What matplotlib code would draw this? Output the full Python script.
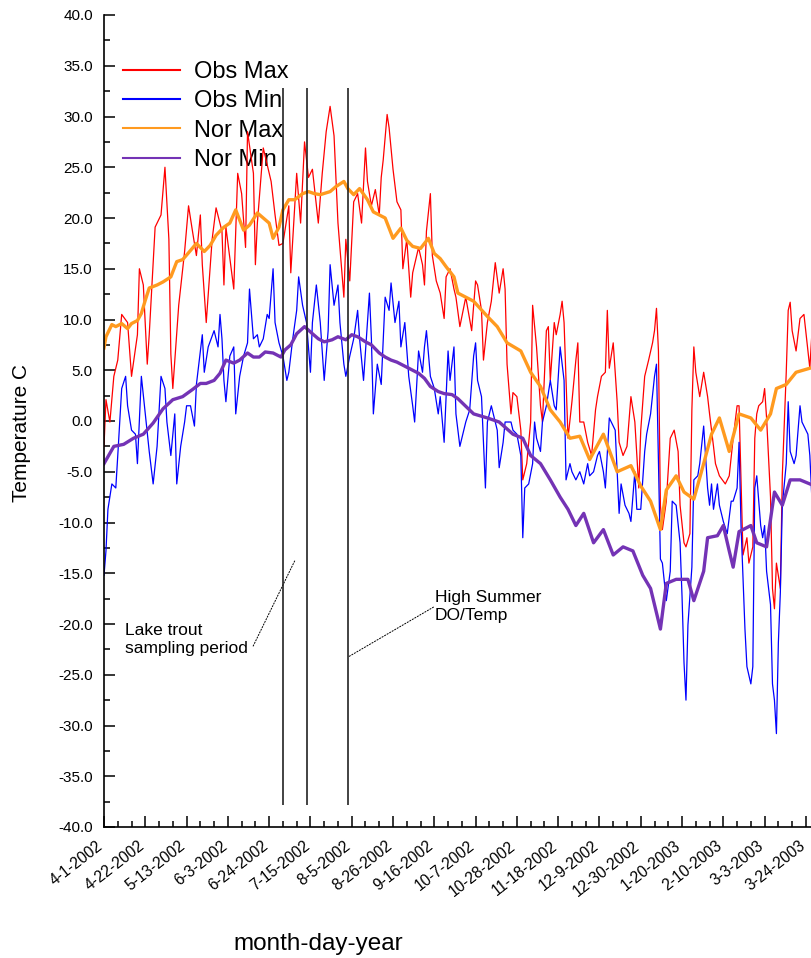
import matplotlib
matplotlib.use("Agg")
import matplotlib.pyplot as plt
from matplotlib.ticker import MultipleLocator, FormatStrFormatter
from matplotlib.transforms import ScaledTranslation

plt.rcParams["font.family"] = ["Liberation Sans", "DejaVu Sans"]

# day offsets are counted from 4-1-2002
tick_days = [0, 21, 42, 63, 84, 105, 126, 147, 168, 189, 210, 231, 252, 273, 294, 315, 336, 357]
tick_labels = ["4-1-2002", "4-22-2002", "5-13-2002", "6-3-2002", "6-24-2002", "7-15-2002",
               "8-5-2002", "8-26-2002", "9-16-2002", "10-7-2002", "10-28-2002", "11-18-2002",
               "12-9-2002", "12-30-2002", "1-20-2003", "2-10-2003", "3-3-2003", "3-24-2003"]

obs_max_day = [0, 1, 3, 5, 7, 9, 12, 14, 17, 18, 20, 22, 23, 26, 28, 29, 31, 33, 34, 35, 38, 41, 43, 45,
               47, 49, 50, 52, 55, 57, 60, 61, 62, 66, 68, 70, 72, 73, 76, 77, 78, 81, 84, 85, 87, 89,
               91, 94, 95, 98, 100, 102, 104, 106, 109, 111, 113, 115, 117, 119, 121, 122, 123, 125,
               127, 129, 131, 133, 134, 136, 138, 140, 141, 142, 144, 145, 147, 149, 151, 152, 154,
               156, 157, 160, 162, 163, 164, 166, 167, 169, 171, 173, 174, 176, 178, 179, 181, 184,
               187, 189, 190, 192, 193, 195, 197, 199, 201, 203, 204, 205, 207, 208, 210, 212, 213,
               215, 217, 218, 220, 222, 223, 225, 226, 227, 229, 230, 232, 233, 234, 236, 238, 240,
               241, 242, 244, 246, 248, 250, 251, 253, 255, 256, 257, 259, 261, 262, 264, 266, 268,
               270, 272, 273, 275, 277, 279, 280, 281, 282, 283, 284, 286, 288, 290, 292, 293, 295,
               296, 298, 299, 300, 301, 303, 305, 307, 308, 310, 311, 313, 316, 318, 320, 322, 323,
               325, 327, 328, 330, 331, 332, 333, 335, 336, 337, 339, 340, 341, 342, 344, 345, 347,
               348, 349, 350, 352, 354, 356, 358, 359, 360]
obs_max = [-2.5, 2.1, -0.1, 4.4, 6.0, 10.5, 9.7, 4.4, 8.5, 15.0, 13.4, 5.6, 8.5, 19.1, 19.9, 20.3, 25.0,
           17.9, 6.6, 3.2, 11.4, 16.7, 21.2, 18.7, 16.3, 20.3, 15.4, 9.7, 17.9, 21.0, 18.7, 13.4, 19.1,
           13.0, 24.4, 22.4, 17.1, 28.5, 24.4, 15.4, 19.5, 26.9, 24.4, 23.6, 20.3, 17.3, 17.5, 21.2,
           14.6, 24.4, 19.5, 27.5, 24.0, 24.8, 19.5, 24.4, 28.5, 31.0, 28.1, 19.5, 14.6, 12.2, 17.9,
           13.8, 21.6, 22.4, 19.5, 26.9, 23.6, 21.2, 22.8, 20.3, 24.0, 25.7, 30.2, 28.9, 24.8, 21.6,
           20.8, 15.0, 17.9, 12.2, 14.6, 17.1, 15.4, 13.4, 18.7, 22.4, 16.3, 13.8, 12.6, 10.1, 14.2,
           15.0, 13.0, 12.2, 9.3, 12.2, 8.9, 13.8, 13.4, 10.9, 6.0, 9.7, 11.8, 15.6, 12.6, 15.0, 13.0,
           5.6, 0.7, 2.8, 2.4, -0.9, -5.8, -4.2, -0.1, 11.4, 7.3, 1.5, -0.1, 8.9, 9.3, 4.0, 9.7, 8.5,
           10.5, 11.8, 9.7, -1.7, 1.9, 6.0, 7.7, -0.1, -0.1, -2.1, -3.4, 1.1, 2.4, 4.4, 4.8, 10.9, 5.2,
           7.7, 1.9, -2.1, -3.4, -2.5, 2.4, -0.1, -6.6, -0.9, 4.4, 6.0, 7.7, 8.9, 11.1, 6.9, -8.3,
           -10.7, -7.9, -1.7, -0.9, -3.0, -8.3, -12.0, -12.4, -11.1, 1.1, 7.3, 4.8, 2.4, 4.8, 2.4, 0.7,
           -2.5, -4.2, -5.4, -6.2, -5.4, -1.7, 1.5, 1.5, -13.2, -11.5, -14.0, -12.4, -1.7, 0.7, 1.5,
           1.9, 3.2, 0.3, -7.5, -16.5, -18.5, -14.0, -16.5, -5.4, 4.8, 10.9, 11.7, 8.9, 6.9, 10.1,
           10.5, 6.9, 5.2, 8.5]

obs_min_day = [0, 1, 2, 4, 6, 7, 9, 11, 12, 14, 16, 17, 19, 21, 23, 25, 27, 29, 31, 32, 34, 36, 37, 39,
               41, 42, 44, 46, 47, 50, 51, 53, 56, 58, 59, 60, 61, 62, 64, 66, 67, 69, 71, 73, 74, 76,
               78, 79, 81, 83, 84, 86, 87, 89, 91, 93, 94, 96, 98, 99, 101, 103, 105, 106, 108, 110,
               112, 114, 115, 117, 119, 120, 122, 123, 125, 127, 129, 130, 132, 134, 135, 136, 137,
               139, 141, 143, 145, 146, 148, 150, 151, 153, 155, 157, 158, 160, 162, 163, 164, 166,
               168, 170, 171, 173, 175, 176, 178, 179, 181, 184, 186, 188, 189, 190, 192, 194, 195,
               197, 200, 201, 203, 204, 207, 208, 210, 212, 213, 214, 216, 218, 219, 220, 222, 223,
               225, 227, 229, 230, 232, 234, 235, 237, 238, 240, 242, 244, 246, 247, 249, 251, 252,
               254, 255, 257, 258, 260, 261, 262, 263, 265, 267, 268, 270, 271, 273, 275, 276, 278,
               280, 281, 282, 283, 284, 286, 288, 289, 291, 293, 294, 295, 296, 297, 299, 300, 302,
               303, 305, 307, 308, 309, 310, 312, 313, 315, 317, 319, 320, 322, 323, 324, 326, 327,
               329, 330, 331, 332, 334, 335, 336, 337, 339, 340, 341, 342, 343, 344, 345, 347, 348,
               349, 351, 352, 354, 355, 358, 359, 360]
obs_min = [-15.2, -12.8, -8.7, -6.2, -6.6, -3.4, 3.2, 4.4, 1.5, -0.9, -1.3, -4.2, 4.4, 0.7, -3.0, -6.2,
           -2.5, 4.4, 3.2, -0.1, -3.4, 0.7, -6.2, -2.5, -0.1, 1.5, 1.5, -0.5, 3.6, 8.5, 4.8, 7.3, 8.9,
           7.3, 10.5, 8.1, 4.0, 1.9, 6.4, 7.3, 0.7, 4.4, 6.4, 7.7, 13.0, 8.1, 8.5, 7.3, 8.1, 10.5, 10.1,
           15.0, 9.7, 7.7, 6.4, 4.0, 4.8, 8.1, 10.9, 14.2, 11.4, 9.7, 4.8, 9.7, 13.4, 9.7, 4.0, 8.9,
           15.4, 11.4, 13.4, 9.7, 5.6, 4.4, 6.4, 8.1, 10.9, 8.1, 4.0, 9.7, 12.6, 8.1, 0.7, 5.6, 3.6,
           12.2, 10.9, 13.6, 9.7, 11.8, 7.3, 9.7, 4.4, 1.5, -0.1, 6.9, 4.8, 7.3, 8.9, 4.4, 3.2, 0.7,
           2.4, -2.1, 6.9, 4.0, 7.3, 0.7, -2.5, -0.1, 1.1, 6.4, 7.7, 4.0, 2.4, -6.6, -0.1, 1.5, -0.9,
           -4.6, -2.1, -0.1, -0.1, -0.9, -1.3, -3.4, -11.5, -6.6, -6.2, -4.2, -0.1, -1.7, -3.0, -0.1,
           1.5, 4.0, 1.5, 1.1, 7.3, 4.0, -5.8, -4.2, -5.0, -5.8, -5.0, -6.2, -4.2, -5.4, -5.0, -3.4,
           -3.0, -5.0, -6.6, 0.3, -0.1, -0.9, -5.0, -9.1, -6.2, -8.3, -9.1, -9.9, -5.0, -8.7, -8.7,
           -3.0, -1.3, 0.7, 4.4, 5.6, -4.2, -13.6, -14.0, -17.7, -14.8, -7.9, -8.3, -12.0, -17.3,
           -23.8, -27.5, -20.1, -14.4, -5.8, -5.4, -4.2, -0.5, -6.6, -8.3, -6.2, -8.7, -6.2, -8.3,
           -9.9, -11.1, -7.9, -7.9, -6.6, -2.1, -10.3, -20.5, -24.2, -25.9, -24.2, -6.6, -5.4, -10.3,
           -11.5, -10.3, -14.8, -18.1, -25.9, -27.5, -30.8, -21.8, -16.9, -8.3, -4.2, 1.9, -3.0, -4.2,
           -3.4, 1.5, -0.1, -1.3, -3.4, -7.5]

nor_max_day = [0, 1, 4, 6, 9, 12, 14, 17, 19, 21, 23, 27, 30, 34, 37, 40, 44, 47, 51, 54, 57, 61, 64,
               67, 71, 74, 78, 81, 84, 86, 89, 91, 94, 97, 101, 104, 107, 110, 115, 118, 122, 124,
               127, 130, 134, 137, 140, 143, 147, 151, 154, 157, 161, 165, 168, 171, 174, 178, 180,
               188, 195, 200, 205, 212, 217, 222, 227, 232, 237, 242, 247, 254, 261, 268, 273, 278,
               283, 286, 291, 295, 300, 305, 309, 313, 318, 323, 329, 334, 339, 342, 347, 352, 359]
nor_max = [7.2, 8.3, 9.5, 9.3, 9.6, 9.1, 9.6, 9.9, 10.6, 11.9, 13.1, 13.4, 13.7, 14.2, 15.7, 15.9,
           16.8, 17.5, 16.7, 17.3, 18.3, 19.1, 19.5, 20.8, 18.8, 19.3, 20.5, 20.0, 19.5, 18.0, 19.1,
           20.8, 21.8, 21.8, 22.4, 22.6, 22.4, 22.3, 22.6, 23.1, 23.6, 22.9, 22.3, 22.9, 21.8, 20.6,
           20.3, 20.0, 18.0, 19.0, 17.8, 17.2, 17.0, 18.0, 16.5, 16.0, 15.2, 14.2, 12.6,
           11.8, 10.3, 9.3, 7.7, 6.9, 4.8, 3.4, 1.1, -0.1, -1.7, -1.5, -3.8, -1.3, -5.0, -4.4, -6.4,
           -7.9, -10.7, -6.8, -5.4, -7.0, -7.7, -4.2, -1.3, 0.3, -3.0, 0.7, 0.3, -0.9, 0.7, 3.2, 3.6,
           4.8, 5.2]

nor_min_day = [0, 5, 10, 15, 20, 25, 30, 35, 40, 45, 49, 52, 56, 59, 62, 66, 69, 73, 76, 79, 82, 86,
               90, 92, 95, 98, 102, 106, 109, 112, 116, 119, 123, 126, 129, 133, 136, 140, 143, 146,
               149, 153, 157, 160, 163, 166, 170, 173, 177, 180, 188, 195, 201, 208, 213, 217, 222,
               227, 232, 236, 240, 244, 249, 254, 259, 264, 269, 274, 278, 283, 286, 291, 297, 300,
               305, 307, 312, 315, 318, 320, 323, 329, 332, 337, 341, 345, 349, 354, 359]
nor_min = [-4.2, -2.5, -2.3, -1.7, -1.3, -0.2, 1.2, 2.1, 2.4, 3.1, 3.7, 3.7, 4.0, 4.7, 6.0, 5.7, 6.0,
           6.7, 6.3, 6.3, 6.8, 6.7, 6.3, 7.0, 7.5, 8.6, 9.3, 8.6, 8.1, 7.8, 8.0, 8.3, 8.0, 8.5, 8.3,
           7.8, 7.5, 6.7, 6.3, 6.0, 5.8, 5.4, 5.0, 4.7, 4.2, 3.4, 2.9, 2.7, 2.6, 2.2,
           0.7, 0.3, -0.1, -1.3, -1.7, -3.4, -4.2, -5.8, -7.5, -8.7, -10.3, -9.1, -12.0, -10.7,
           -13.2, -12.4, -12.8, -15.2, -16.5, -20.5, -16.0, -15.6, -15.6, -17.7, -14.8, -11.5,
           -11.3, -10.3, -12.8, -14.4, -10.9, -10.3, -12.0, -12.4, -7.0, -8.3, -5.8, -5.8, -6.2]

# sampling period markers (day offsets)
marker_days = [91, 103, 124.3]

fig = plt.figure(figsize=(8.12, 9.58), dpi=100)
ax = fig.add_axes([104 / 812, 1 - 827 / 958, (812 - 104) / 812, (827 - 15) / 958])

ax.plot(obs_max_day, obs_max, color="#ff0000", lw=0.9, label="Obs Max")
ax.plot(obs_min_day, obs_min, color="#0000ff", lw=0.9, label="Obs Min")
ax.plot(nor_max_day, nor_max, color="#ff9a1f", lw=2.4, label="Nor Max")
ax.plot(nor_min_day, nor_min, color="#7433b5", lw=2.4, label="Nor Min")

ax.vlines(marker_days, -37.8, 32.8, color="#222222", lw=1.2, zorder=4)

ax.plot([75.8, 97.2], [-22.2, -13.7], color="black", lw=0.7, ls=(0, (2, 1)))
ax.plot([124.6, 167.9], [-23.2, -18.3], color="black", lw=0.7, ls=(0, (2, 1)))
ax.text(10.7, -21.5, "Lake trout\nsampling period", fontsize=12.5, va="center", ha="left",
        linespacing=1.25)
ax.text(168.4, -18.3, "High Summer\nDO/Temp", fontsize=12.5, va="center", ha="left",
        linespacing=1.25)

ax.set_xlim(0, 360.1)
ax.set_ylim(-40, 40)
ax.set_xticks(tick_days)
ax.set_xticklabels(tick_labels, rotation=38, ha="right", va="baseline", rotation_mode="anchor",
                   fontsize=11.2)
shift = ScaledTranslation(3 / 100, 0, fig.dpi_scale_trans)
for lbl in ax.get_xticklabels():
    lbl.set_transform(lbl.get_transform() + shift)
ax.xaxis.set_minor_locator(MultipleLocator(7))
ax.yaxis.set_major_locator(MultipleLocator(5))
ax.yaxis.set_minor_locator(MultipleLocator(2.5))
ax.yaxis.set_major_formatter(FormatStrFormatter("%.1f"))
ax.tick_params(axis="both", which="major", direction="in", length=8, width=1.1, color="black")
ax.tick_params(axis="both", which="minor", direction="in", length=4, width=1.1)
ax.tick_params(axis="y", labelsize=11, pad=8)
ax.tick_params(axis="x", pad=15)
for side in ["top", "right"]:
    ax.spines[side].set_visible(False)
for side in ["left", "bottom"]:
    ax.spines[side].set_linewidth(1.2)

leg = ax.legend(loc="upper left", bbox_to_anchor=(19 / 708, 1 - 46 / 812), frameon=False,
                fontsize=17, handlelength=2.4, handletextpad=0.6, labelspacing=0.31,
                borderpad=0, borderaxespad=0)
for h in leg.get_lines():
    h.set_linewidth(1.5)
leg.set_zorder(1)

fig.text(22 / 812, 1 - 433 / 958, "Temperature C", rotation=90, fontsize=15, ha="center",
         va="center")
fig.text(318 / 812, 1 - 944 / 958, "month-day-year", fontsize=17.5, ha="center", va="center")

fig.savefig("out.png", dpi=100)
